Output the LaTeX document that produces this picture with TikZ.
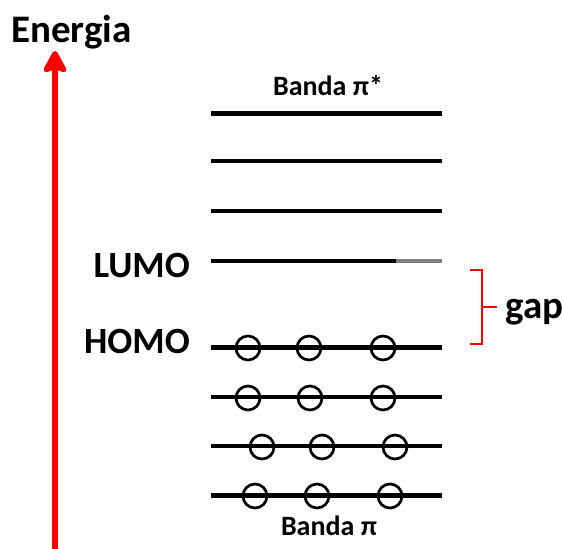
\documentclass[tikz,border=0pt]{standalone}
\usepackage{fontspec}
\setmainfont{Carlito}
\usetikzlibrary{arrows.meta}
\definecolor{arrowred}{RGB}{255,0,0}
\begin{document}
\begin{tikzpicture}[x=1pt,y=-1pt,
  lbl/.style={font=\bfseries\fontsize{37}{37}\selectfont, inner sep=0pt},
  biglbl/.style={font=\bfseries\fontsize{39}{39}\selectfont, inner sep=0pt},
  bandlbl/.style={font=\bfseries\fontsize{28}{28}\selectfont, inner sep=0pt},
  level/.style={line width=4pt},
  thicklevel/.style={line width=5pt},
  electron/.style={circle, draw, line width=2.7pt, minimum size=24pt, inner sep=0pt},
  gapbr/.style={draw=arrowred, line width=2pt}]
\useasboundingbox (0,0) rectangle (563,549);
% energy axis
\coordinate (ebot) at (55,549);
\coordinate (etop) at (55,51);
\draw[arrowred, line width=5.5pt, -{Stealth[length=26pt, width=28pt, inset=5pt, round]}] (ebot) -- (etop);
\node[biglbl, anchor=base west] (energia) at (11,42) {Energia};
% levels
\foreach \y/\n/\s in {113/l1/thicklevel,161/l2/level,211/l3/level,261/lumo/level,347/homo/thicklevel,397/l6/level,446/l7/level,495/l8/thicklevel}{
  \coordinate (\n a) at (211,\y);
  \coordinate (\n b) at (442,\y);
  \draw[\s] (\n a) -- (\n b);
}
\coordinate (lumog) at (396,261);
\draw[level, gray] (lumog) -- (lumob);
% labels
\node[bandlbl, anchor=base] (bpistar) at (328,95) {Banda π*};
\node[lbl, anchor=base east] (lumo) at (190,277) {LUMO};
\node[lbl, anchor=base east] (homo) at (190,353) {HOMO};
\node[bandlbl, anchor=base] (bpi) at (329,535) {Banda π};
% electrons
\foreach \x/\y/\n in {248/348/e1,309/348/e2,383/348/e3,
                      248/398/e4,310/398/e5,383/398/e6,
                      262/447/e7,322/447/e8,395/447/e9,
                      255/496/e10,317/496/e11,390/496/e12}{
  \node[electron] (\n) at (\x,\y) {};
}
% gap bracket
\coordinate (g1) at (470,270);
\coordinate (g2) at (482,270);
\coordinate (g3) at (482,344);
\coordinate (g4) at (470,344);
\coordinate (gm) at (482,307);
\coordinate (gt) at (497,307);
\node[biglbl, anchor=base west] (gap) at (505,318) {gap};
\draw[gapbr] (g1) -- (g2) -- (g3) -- (g4);
\draw[gapbr] (gm) -- (gt);
\end{tikzpicture}
\end{document}
